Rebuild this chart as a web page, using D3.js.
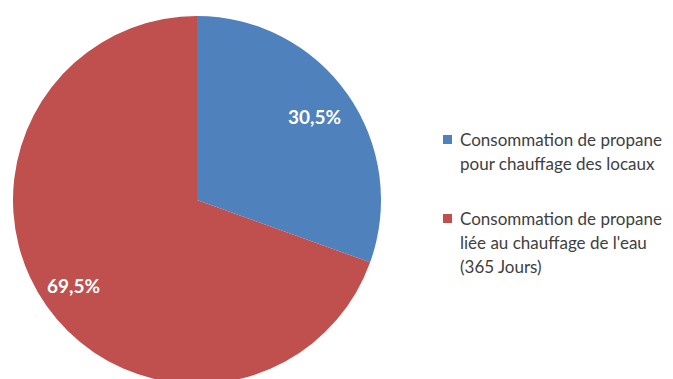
<!DOCTYPE html>
<html>
<head>
<meta charset="utf-8">
<script src="https://cdn.jsdelivr.net/npm/d3@7"></script>
<style>
	body { margin: 0; background: #fff; }
	svg { display: block; }
</style>
</head>
<body>
<svg></svg>
<script>
const width = 673;
const height = 379;

// data
const categories = [
	['Consommation de propane', 'pour chauffage des locaux'],
	['Consommation de propane', 'liée au chauffage de l\'eau', '(365 Jours)'],
];
const values = [30.5, 69.5];
const colors = ['#4f81bd', '#c0504d'];

const cx = 197;
const cy = 200;
const radius = 184;
const labelRadius = [0.78, 0.82];

const svg = d3.select('svg').attr('width', width).attr('height', height);

const pie = d3.pie().sort(null).value((d) => d);
const arc = d3.arc().innerRadius(0).outerRadius(radius);

const g = svg.append('g').attr('transform', `translate(${cx},${cy})`);

const arcs = pie(values);

g.selectAll('path')
	.data(arcs)
	.enter()
	.append('path')
	.attr('d', arc)
	.attr('fill', (d, i) => colors[i]);

g.selectAll('text')
	.data(arcs)
	.enter()
	.append('text')
	.attr('transform', (d, i) => {
		const r = radius * labelRadius[i];
		return `translate(${d3.arc().innerRadius(r).outerRadius(r).centroid(d)})`;
	})
	.attr('text-anchor', 'middle')
	.attr('dy', '0.35em')
	.attr('fill', '#fff')
	.attr('font-family', 'Lato, "Open Sans", sans-serif')
	.attr('font-weight', 'bold')
	.attr('font-size', 19)
	.text((d) => d.data.toFixed(1).replace('.', ',') + '%');

// legend
const legendTop = [140, 219];
const legend = svg
	.append('g')
	.selectAll('g')
	.data(categories)
	.enter()
	.append('g')
	.attr('transform', (d, i) => `translate(443,${legendTop[i]})`);

legend
	.append('rect')
	.attr('x', 0)
	.attr('y', -5)
	.attr('width', 9)
	.attr('height', 9)
	.attr('fill', (d, i) => colors[i]);

legend
	.append('text')
	.attr('font-family', 'Lato, "Open Sans", sans-serif')
	.attr('font-size', 17)
	.attr('fill', '#404040')
	.selectAll('tspan')
	.data((d) => d)
	.enter()
	.append('tspan')
	.attr('x', 17)
	.attr('y', (d, i) => i * 24)
	.attr('dy', '0.35em')
	.text((d) => d);
</script>
</body>
</html>
